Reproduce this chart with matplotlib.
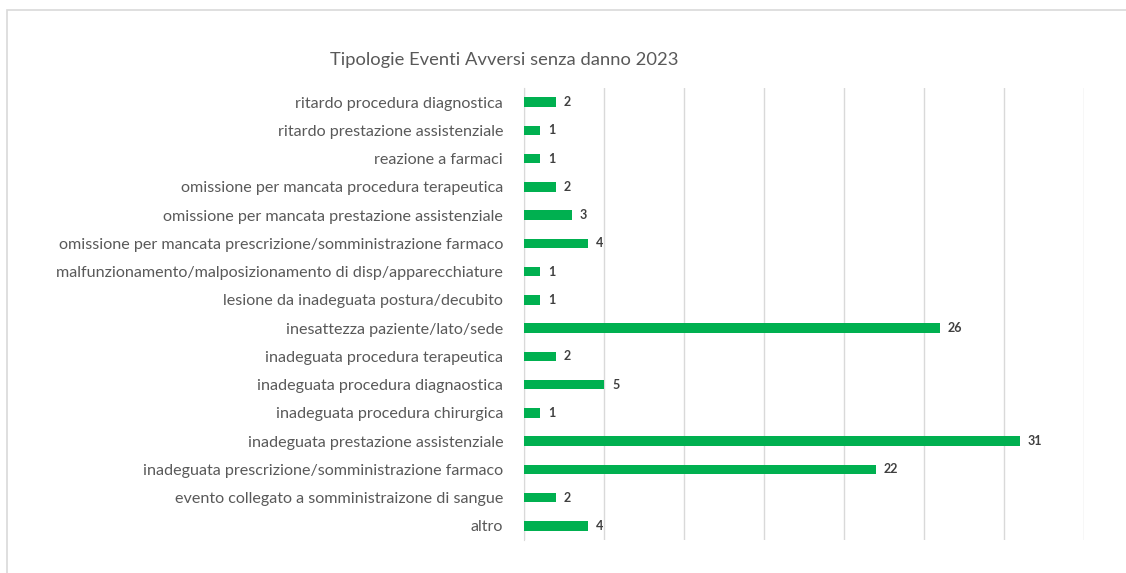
import matplotlib.pyplot as plt
from matplotlib.patches import Rectangle

plt.rcParams['font.family'] = ['Lato', 'DejaVu Sans']

# categories listed bottom -> top, as drawn
categorie = [
    "altro",
    "evento collegato a somministraizone di sangue",
    "inadeguata prescrizione/somministrazione farmaco",
    "inadeguata prestazione assistenziale",
    "inadeguata procedura chirurgica",
    "inadeguata procedura diagnaostica",
    "inadeguata procedura terapeutica",
    "inesattezza paziente/lato/sede",
    "lesione da inadeguata postura/decubito",
    "malfunzionamento/malposizionamento di disp/apparecchiature",
    "omissione per mancata prescrizione/somministrazione farmaco",
    "omissione per mancata prestazione assistenziale",
    "omissione per mancata procedura terapeutica",
    "reazione a farmaci",
    "ritardo prestazione assistenziale",
    "ritardo procedura diagnostica",
]
valori = [4, 2, 22, 31, 1, 5, 2, 26, 1, 1, 4, 3, 2, 1, 1, 2]
titolo = "Tipologie Eventi Avversi senza danno 2023"

verde = "#00B050"
griglia = "#D9D9D9"
testo = "#595959"

fig = plt.figure(figsize=(11.26, 5.73), dpi=100)

# chart border
fig.patches.append(Rectangle((7 / 1126, -0.01), 1.0, 1 - 10 / 573 + 0.01,
                             transform=fig.transFigure, fill=False,
                             edgecolor=griglia, linewidth=1.2))

ax = fig.add_axes([524 / 1126, 1 - 540 / 573, 560 / 1126, 452 / 573])
y = range(len(categorie))
ax.barh(y, valori, height=0.34, color=verde, zorder=3)

for i, v in enumerate(valori):
    ax.text(v + 0.5, i, str(v), va='center', ha='left', fontsize=9,
            fontweight='bold', color="#404040")

ax.set_xlim(0, 35)
ax.set_ylim(-0.5, len(categorie) - 0.5)
ax.set_xticks(range(0, 36, 5))
ax.set_xticklabels([])
ax.grid(axis='x', color=griglia, linewidth=1, zorder=0)
ax.set_yticks(list(y))
ax.set_yticklabels(categorie, fontsize=11.6, color=testo)
ax.tick_params(axis='both', length=0, pad=15)
for s in ['top', 'right', 'bottom']:
    ax.spines[s].set_visible(False)
ax.spines['left'].set_color(griglia)

fig.text(330 / 1126, 1 - 60 / 573, titolo, fontsize=13.2, color=testo,
         ha='left', va='center')

fig.savefig("out.png", dpi=100)
